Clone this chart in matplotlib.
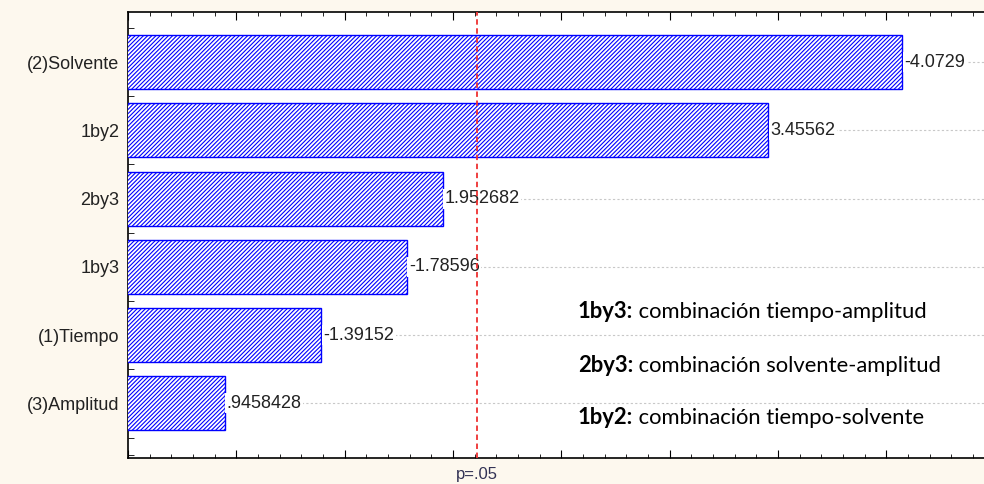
import numpy as np
import matplotlib.pyplot as plt
from matplotlib.ticker import MultipleLocator
import matplotlib.transforms as mtransforms

factors = ['(2)Solvente', '1by2', '2by3', '1by3', '(1)Tiempo', '(3)Amplitud']
effects = [-4.0729, 3.45562, 1.952682, -1.78596, -1.39152, 0.9458428]
p_crit = 2.1098
notes = [('1by3:', ' combinación tiempo-amplitud'),
         ('2by3:', ' combinación solvente-amplitud'),
         ('1by2:', ' combinación tiempo-solvente')]

def fmt(v):
    s = '%.7g' % v
    return s.replace('0.', '.', 1) if s.startswith('0.') else s

plt.rcParams['hatch.linewidth'] = 0.8
fig = plt.figure(figsize=(9.84, 4.84), dpi=100, facecolor='#fdf8ee')
ax = fig.add_axes([0.130, 0.0537, 0.870, 0.921])

y = np.arange(len(factors))
width = np.abs(effects)
ax.barh(y, width, height=0.79, color='white', edgecolor='#0000ff',
        hatch='////////', linewidth=1.0, zorder=3)

for yi, w, e in zip(y, width, effects):
    ax.text(w + 0.01, yi, fmt(e), ha='left', va='center', fontsize=13,
            family='Liberation Sans', color='#222222', zorder=4,
            bbox=dict(facecolor='white', edgecolor='none', pad=1))

ax.axvline(p_crit, color='#ee3030', linestyle=(0, (3, 2)), lw=1.3, zorder=5)
trans = mtransforms.blended_transform_factory(ax.transData, ax.transAxes)
ax.text(p_crit, -0.02, 'p=.05', transform=trans, ha='center', va='top',
        fontsize=12, family='Liberation Sans', color='#333355')

ax.set_xlim(0.5, 4.45)
ax.set_ylim(5.8, -0.73)
ax.set_yticks(y)
ax.set_yticklabels(factors, family='Liberation Sans', fontsize=13, color='#222222')
ax.yaxis.set_minor_locator(MultipleLocator(0.25))
ax.xaxis.set_major_locator(MultipleLocator(0.5))
ax.xaxis.set_minor_locator(MultipleLocator(0.1))
ax.set_xticklabels([])
ax.tick_params(axis='x', which='major', direction='in', length=6, top=True)
ax.tick_params(axis='x', which='minor', direction='in', length=3, top=True)
ax.tick_params(axis='y', which='both', direction='in', length=4, pad=6)
ax.spines['right'].set_visible(False)
for s in ['left', 'top', 'bottom']:
    ax.spines[s].set_linewidth(1.2)

ax.grid(axis='y', which='major', color='#c8c8c8', linestyle=(0, (2, 2)), lw=0.8, zorder=0)

# notes explaining the interaction codes
for i, (code, desc) in enumerate(notes):
    t = ax.text(578 / 984, 1 - (312 + 53 * i) / 484, code, transform=fig.transFigure,
                ha='left', va='center', fontsize=15.8, family='Lato', fontweight='bold')
    ax.annotate(desc, xy=(1, 0), xycoords=t, va='bottom', ha='left',
                fontsize=15.8, family='Lato')

fig.savefig('out.png', dpi=100, facecolor=fig.get_facecolor())
